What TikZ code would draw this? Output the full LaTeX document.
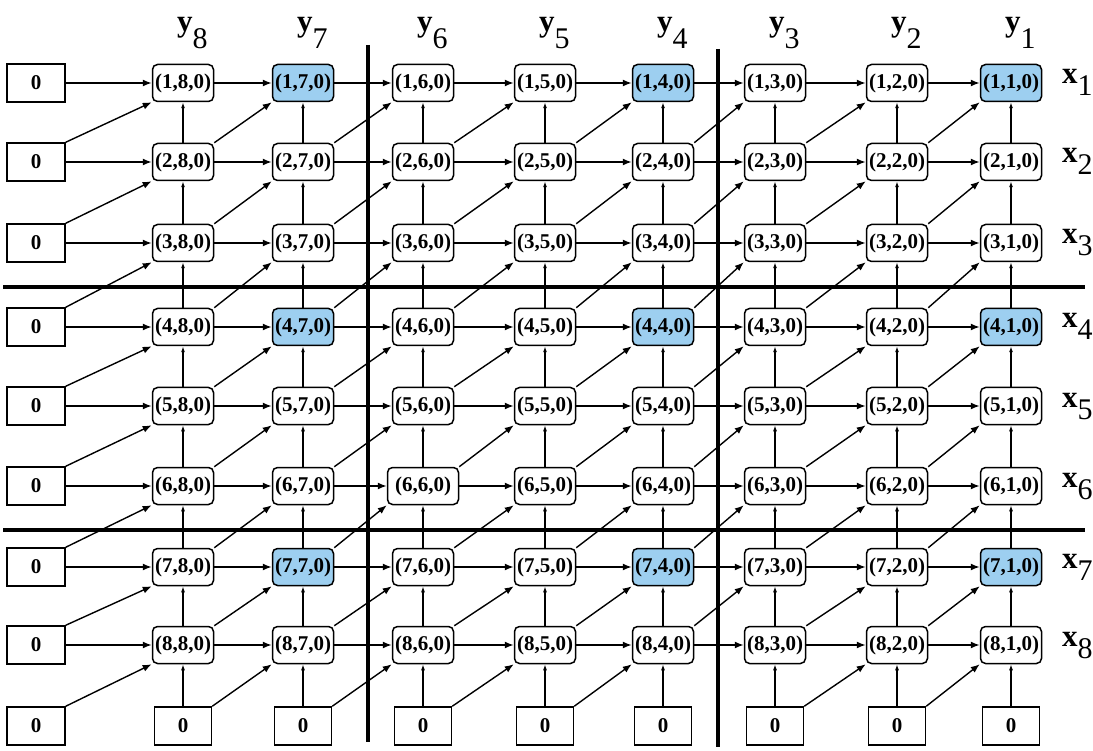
\documentclass[tikz,border=0pt]{standalone}
\usepackage{fontspec}
\setmainfont{Liberation Serif}
\usetikzlibrary{arrows.meta}
\definecolor{cellblue}{RGB}{157,207,240}
\begin{document}
\begin{tikzpicture}[x=1pt,y=-1pt,
  cell/.style={draw, line width=1.5pt, rounded corners=5pt, minimum width=61pt, minimum height=37pt, inner sep=0pt, font=\bfseries\fontsize{21}{23}\selectfont},
  zero/.style={draw, line width=1.5pt, minimum width=58pt, minimum height=38pt, inner sep=0pt, font=\bfseries\fontsize{21}{23}\selectfont},
  arr/.style={line width=1.4pt, -{Latex[length=9pt,width=7pt]}},
  varr/.style={line width=1.4pt, -{Latex[length=6pt,width=4pt]}},
  sepline/.style={line width=4pt},
  lab/.style={anchor=base west, inner sep=0pt, font=\bfseries\fontsize{31}{31}\selectfont}
]
\useasboundingbox (0,0) rectangle (1093,751);
\def\colx{{0,1011,897,775,663,545,423,303,183}}
\def\rowy{{0,83,162,243,327,406,486,567,645,726}}
% cells
\foreach \i in {1,...,8}{
  \foreach \j in {1,...,8}{
    \pgfmathsetmacro\xx{\colx[\j]}
    \pgfmathsetmacro\yy{\rowy[\i]}
    \pgfmathtruncatemacro\h{(mod(\i-1,3)==0)*(mod(\j-1,3)==0)}
    \pgfmathtruncatemacro\w{(\i==6)*(\j==6)*10+61}
    \ifnum\h=1 \def\fc{cellblue}\else\def\fc{white}\fi
    \node[cell, fill=\fc, minimum width=\w pt] (c\i-\j) at (\xx,\yy) {(\i,\j,0)};
  }
}
% left zeros
\foreach \i in {1,...,9}{
  \pgfmathsetmacro\yy{\rowy[\i]}
  \node[zero] (L\i) at (36,\yy) {0};
}
% bottom zeros
\foreach \j in {1,...,8}{
  \pgfmathsetmacro\xx{\colx[\j]}
  \node[zero, minimum width=57pt] (B\j) at (\xx,726) {0};
}
% horizontal arrows
\foreach \i in {1,...,8}{
  \draw[arr] (L\i) -- (c\i-8);
  \foreach \j in {1,...,7}{
    \pgfmathtruncatemacro\jp{\j+1}
    \draw[arr] (c\i-\jp) -- (c\i-\j);
  }
}
% vertical arrows
\foreach \j in {1,...,8}{
  \draw[varr] (B\j.north) -- (c8-\j.south);
  \foreach \i in {1,...,7}{
    \pgfmathtruncatemacro\ip{\i+1}
    \draw[varr] (c\ip-\j.north) -- (c\i-\j.south);
  }
}
% diagonal arrows
\foreach \i in {2,...,9}{
  \pgfmathtruncatemacro\im{\i-1}
  \draw[arr] (L\i.north east) -- (c\im-8.south west);
}
\foreach \i in {2,...,8}{
  \pgfmathtruncatemacro\im{\i-1}
  \foreach \j in {2,...,8}{
    \pgfmathtruncatemacro\jm{\j-1}
    \draw[arr] (c\i-\j.north east) -- (c\im-\jm.south west);
  }
}
\foreach \j in {2,3,5,6,7,8}{
  \pgfmathtruncatemacro\jm{\j-1}
  \draw[arr] (B\j.north east) -- (c8-\jm.south west);
}
% separator lines
\coordinate (h1a) at (3,287); \coordinate (h1b) at (1085,287);
\coordinate (h2a) at (3,530); \coordinate (h2b) at (1085,530);
\coordinate (v1a) at (368,45); \coordinate (v1b) at (368,742);
\coordinate (v2a) at (718,49); \coordinate (v2b) at (718,747);
\draw[sepline] (h1a) -- (h1b);
\draw[sepline] (h2a) -- (h2b);
\draw[sepline] (v1a) -- (v1b);
\draw[sepline] (v2a) -- (v2b);
% column labels
\foreach \j in {1,...,8}{
  \pgfmathsetmacro\xx{\colx[\j]-6}
  \node[lab] (y\j) at (\xx,32) {y\raisebox{-17pt}{\mdseries\fontsize{30}{30}\selectfont\j}};
}
% row labels
\foreach \i in {1,...,8}{
  \pgfmathsetmacro\yy{\rowy[\i]+1}
  \node[lab] (x\i) at (1062,\yy) {x\raisebox{-12pt}{\mdseries\fontsize{30}{30}\selectfont\i}};
}
\end{tikzpicture}
\end{document}
